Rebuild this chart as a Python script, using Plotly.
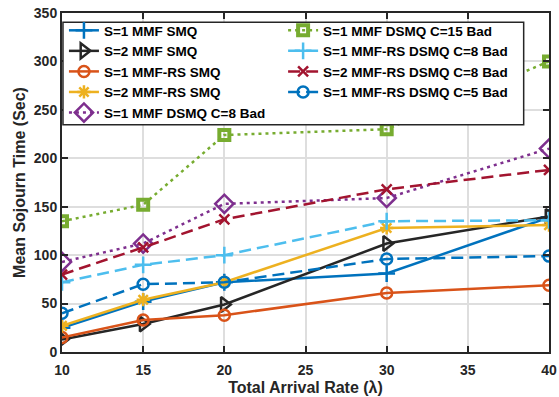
import plotly.graph_objects as go

x = [10, 15, 20, 30, 40]

names = [
    "S=1 MMF SMQ",
    "S=2 MMF SMQ",
    "S=1 MMF-RS SMQ",
    "S=2 MMF-RS SMQ",
    "S=1 MMF DSMQ C=8 Bad",
    "S=1 MMF DSMQ C=15 Bad",
    "S=1 MMF-RS DSMQ C=8 Bad",
    "S=2 MMF-RS DSMQ C=8 Bad",
    "S=1 MMF-RS DSMQ C=5 Bad",
]

s1_mmf_smq = [25, 52, 72, 81, 139]
s2_mmf_smq = [13, 29, 49, 112, 140]
s1_mmfrs_smq = [15, 33, 38, 61, 69]
s2_mmfrs_smq = [27, 54, 72, 128, 131]
s1_mmf_dsmq_c8 = [93, 112, 153, 159, 210]
s1_mmf_dsmq_c15 = [135, 152, 224, 230, 300]
s1_mmfrs_dsmq_c8 = [72, 90, 100, 135, 136]
s2_mmfrs_dsmq_c8 = [80, 108, 137, 168, 188]
s1_mmfrs_dsmq_c5 = [40, 70, 72, 96, 99]

series = [s1_mmf_smq, s2_mmf_smq, s1_mmfrs_smq, s2_mmfrs_smq, s1_mmf_dsmq_c8,
          s1_mmf_dsmq_c15, s1_mmfrs_dsmq_c8, s2_mmfrs_dsmq_c8, s1_mmfrs_dsmq_c5]

colors = ["#0072BD", "#262626", "#D95319", "#EDB120", "#7E2F8E",
          "#77AC30", "#4DBEEE", "#A2142F", "#0072BD"]
symbols = ["cross-thin", "triangle-right-open", "circle-open", "asterisk-open",
           "diamond-open", "square-open", "cross-thin", "x-thin", "circle-open"]
sizes = [12, 13, 11, 11, 14, 10, 12, 10, 11]
mlw = [2.5, 2.5, 2.5, 2.5, 2.5, 4, 2.5, 2.5, 2.5]
dashes = ["solid", "solid", "solid", "solid", "3px,4px",
          "3px,4px", "12px,6px", "12px,6px", "12px,6px"]
legends = ["legend"] * 5 + ["legend2"] * 4

fig = go.Figure()
for nm, ys, c, sym, sz, lw, d, lg in zip(names, series, colors, symbols, sizes, mlw, dashes, legends):
    fig.add_trace(go.Scatter(
        x=x, y=ys, name=nm, mode="lines+markers",
        line=dict(color=c, width=2.5, dash=d),
        marker=dict(symbol=sym, size=sz, color=c,
                    line=dict(color=c, width=lw)),
        legend=lg,
    ))

font_bold = "Liberation Sans"
axis_common = dict(
    showline=True, linewidth=2, linecolor="#262626", mirror="ticks",
    ticks="inside", ticklen=6, tickwidth=1.5, tickcolor="#262626",
    showgrid=True, gridcolor="#dedede", gridwidth=1.5, zeroline=False,
    automargin=False,
    tickfont=dict(family=font_bold, size=14, color="#262626", weight="bold"),
)

legend_font = dict(family=font_bold, size=13.5, color="black", weight="bold")

fig.update_layout(
    width=559, height=397,
    margin=dict(l=62, r=10, t=13, b=45, autoexpand=False),
    paper_bgcolor="white", plot_bgcolor="white",
    showlegend=True,
    xaxis=dict(range=[10, 40], tickvals=[10, 15, 20, 25, 30, 35, 40],
               ticklabelstandoff=4,
               title=dict(text="Total Arrival Rate (λ)", standoff=5,
                          font=dict(family=font_bold, size=16, color="#262626", weight="bold")),
               **axis_common),
    yaxis=dict(range=[0, 350], tickvals=[0, 50, 100, 150, 200, 250, 300, 350],
               title=dict(text="Mean Sojourn Time (Sec)", standoff=4,
                          font=dict(family=font_bold, size=16, color="#262626", weight="bold")),
               **axis_common),
    legend=dict(x=0.004, y=0.994, xanchor="left", yanchor="top",
                bgcolor="rgba(0,0,0,0)", borderwidth=0, tracegroupgap=0,
                itemwidth=30, font=legend_font),
    legend2=dict(x=0.454, y=0.994, xanchor="left", yanchor="top",
                 bgcolor="rgba(0,0,0,0)", borderwidth=0, tracegroupgap=0,
                 itemwidth=30, font=legend_font),
    shapes=[dict(type="rect", xref="paper", yref="paper", layer="above",
                 x0=0.002, x1=0.948, y0=0.67, y1=0.973,
                 line=dict(color="#262626", width=1.5), fillcolor="white")],
)

fig.write_html("out.html")
